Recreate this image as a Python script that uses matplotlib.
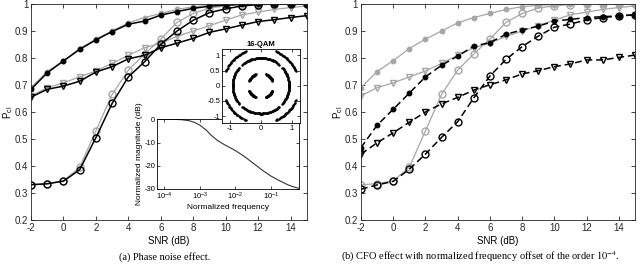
import numpy as np
import matplotlib
matplotlib.use('Agg')
import matplotlib.pyplot as plt

plt.rcParams['font.family'] = ['Liberation Sans', 'DejaVu Sans']
plt.rcParams['mathtext.fontset'] = 'custom'
plt.rcParams['mathtext.rm'] = 'Liberation Sans'
plt.rcParams['mathtext.it'] = 'Liberation Sans:italic'
plt.rcParams['axes.unicode_minus'] = False

# SNR axis
snr = list(range(-2, 16))

# (a) phase noise effect
ref_dot = [0.690, 0.750, 0.790, 0.835, 0.870, 0.900, 0.930, 0.950, 0.965,
           0.980, 0.990, 0.995, 0.998, 1.0, 1.0, 1.0, 1.0, 1.0]
ref_tri = [0.660, 0.690, 0.708, 0.730, 0.752, 0.780, 0.810, 0.838, 0.855,
           0.880, 0.900, 0.920, 0.940, 0.960, 0.970, 0.980, 0.987, 0.993]
ref_circ = [0.330, 0.335, 0.345, 0.395, 0.530, 0.665, 0.755, 0.815, 0.870,
            0.932, 0.965, 0.985, 0.993, 0.998, 1.0, 1.0, 1.0, 1.0]

pn_dot = [0.684, 0.745, 0.789, 0.832, 0.867, 0.898, 0.925, 0.937, 0.959,
          0.972, 0.984, 0.992, 0.996, 0.999, 1.0, 1.0, 1.0, 1.0]
pn_tri = [0.655, 0.684, 0.696, 0.714, 0.748, 0.768, 0.797, 0.810, 0.838,
          0.855, 0.873, 0.895, 0.908, 0.922, 0.935, 0.942, 0.950, 0.957]
pn_circ = [0.331, 0.334, 0.344, 0.386, 0.505, 0.632, 0.730, 0.786, 0.851,
           0.900, 0.940, 0.968, 0.982, 0.993, 0.998, 1.0, 1.0, 1.0]

# (b) CFO effect
cfo_dot = [0.468, 0.551, 0.610, 0.670, 0.730, 0.773, 0.807, 0.844, 0.857,
           0.888, 0.904, 0.918, 0.937, 0.943, 0.950, 0.953, 0.956, 0.960]
cfo_tri = [0.444, 0.486, 0.523, 0.562, 0.600, 0.630, 0.654, 0.681, 0.701,
           0.719, 0.741, 0.753, 0.768, 0.778, 0.793, 0.793, 0.802, 0.811]
cfo_circ = [0.314, 0.330, 0.343, 0.388, 0.444, 0.506, 0.564, 0.652, 0.733,
            0.795, 0.842, 0.881, 0.914, 0.926, 0.941, 0.950, 0.956, 0.960]

# inset: phase noise mask
freq = [10**-4.19, 1e-4, 2e-4, 3e-4, 5e-4, 7e-4, 1e-3, 1.5e-3, 2.1e-3, 3e-3,
        4.5e-3, 7e-3, 1e-2, 1.7e-2, 3.2e-2, 6e-2, 1e-1, 1.8e-1, 2.75e-1, 4e-1, 0.6]
mag = [0.0, 0.0, -0.05, -0.15, -0.6, -1.3, -2.5, -4.6, -6.9, -8.9,
       -10.6, -12.2, -13.5, -15.8, -19.0, -22.2, -24.5, -26.6, -28.0, -29.0, -29.7]

# inset: 16-QAM symbols with phase spread (deg)
qam_levels = [-0.87, -0.29, 0.29, 0.87]
phase_dev = [-22, -20, -19, -17, -15, -13, -11, -10, -8, -6, -5, -3, -1,
             1, 2, 4, 6, 7, 9, 11, 12, 14, 16, 18, 20, 22]

gray = '#a6a6a6'
fs = 7

fig = plt.figure(figsize=(6.4, 2.65), dpi=100)
axL = fig.add_axes([0.0484, 0.1698, 0.431, 0.815])
axR = fig.add_axes([0.564, 0.1698, 0.428, 0.815])


def plot_set(ax, dot, tri, circ, color, ls, lw):
    d = (4.5, 2.5) if ls == '--' else (None, None)
    ax.plot(snr, dot, ls, color=color, lw=lw, marker='o', ms=3.2,
            mfc=color, mec=color, dashes=d)
    ax.plot(snr, tri, ls, color=color, lw=lw, marker='v', ms=5,
            mfc='none', mec=color, dashes=d)
    ax.plot(snr, circ, ls, color=color, lw=lw, marker='o', ms=5,
            mfc='none', mec=color, dashes=d)


plot_set(axL, ref_dot, ref_tri, ref_circ, gray, '-', 0.9)
plot_set(axL, pn_dot, pn_tri, pn_circ, 'black', '-', 1.1)
plot_set(axR, ref_dot, ref_tri, ref_circ, gray, '-', 0.9)
plot_set(axR, cfo_dot, cfo_tri, cfo_circ, 'black', '--', 1.1)

for ax in (axL, axR):
    ax.set_xlim(-2, 15)
    ax.set_ylim(0.2, 1.0)
    ax.set_xticks(range(-2, 15, 2))
    ax.set_yticks(np.arange(0.2, 1.01, 0.1))
    ax.set_yticklabels(['0.2', '0.3', '0.4', '0.5', '0.6', '0.7', '0.8', '0.9', '1'])
    ax.tick_params(direction='in', top=True, right=True, labelsize=fs,
                   length=3, width=0.6, colors='#262626', pad=2)
    for sp in ax.spines.values():
        sp.set_linewidth(0.6)
        sp.set_color('#262626')
    ax.set_xlabel('SNR (dB)', fontsize=fs, labelpad=2)
    ax.set_ylabel('P$_{\\rm cl}$', fontsize=fs, va='center')
    ax.yaxis.set_label_coords(-0.084, 0.5)

# frequency response inset
axF = fig.add_axes([0.2458, 0.2868, 0.222, 0.263])
axF.semilogx(freq, mag, color='#333333', lw=0.8)
axF.set_xlim(10**-4.19, 10**-0.21)
axF.set_ylim(-30, 0)
axF.set_xticks([1e-4, 1e-3, 1e-2, 1e-1])
axF.set_yticks([-30, -20, -10, 0])
axF.minorticks_off()
axF.tick_params(direction='in', top=True, right=True, labelsize=5.5,
                length=2, width=0.5, pad=1.5)
for sp in axF.spines.values():
    sp.set_linewidth(0.6)
axF.set_xlabel('Normalized frequency', fontsize=6, labelpad=1)
axF.set_ylabel('Normalized magnitude (dB)', fontsize=6, labelpad=1)

# constellation inset
axC = fig.add_axes([0.3473, 0.5358, 0.1214, 0.2804])
sym = np.array([complex(i, q) for i in qam_levels for q in qam_levels])
rot = np.exp(1j * np.deg2rad(np.array(phase_dev)))
pts = np.outer(sym, rot).ravel()
axC.plot(pts.real, pts.imag, 'o', color='black', ms=1.8, mew=0)
axC.set_xlim(-1.25, 1.27)
axC.set_ylim(-1.23, 1.22)
axC.set_xticks([-1, 0, 1])
axC.set_yticks([-1, -0.5, 0, 0.5, 1])
axC.set_yticklabels(['-1', '-0.5', '0', '0.5', '1'])
axC.tick_params(direction='in', top=True, right=True, labelsize=5.5,
                length=2, width=0.5, pad=1.5)
for sp in axC.spines.values():
    sp.set_linewidth(0.6)
axC.set_title('16-QAM', fontsize=5.5, pad=2, fontweight='bold')

fig.text(0.258, 0.03, '(a) Phase noise effect.', ha='center', va='center',
         fontsize=7.5, family='Liberation Serif')
fig.text(0.75, 0.03, '(b) CFO effect with normalized frequency offset of the order $10^{-4}$.',
         ha='center', va='center', fontsize=7.5, family='Liberation Serif',
         math_fontfamily='stix')

fig.savefig('out.png', dpi=100)
